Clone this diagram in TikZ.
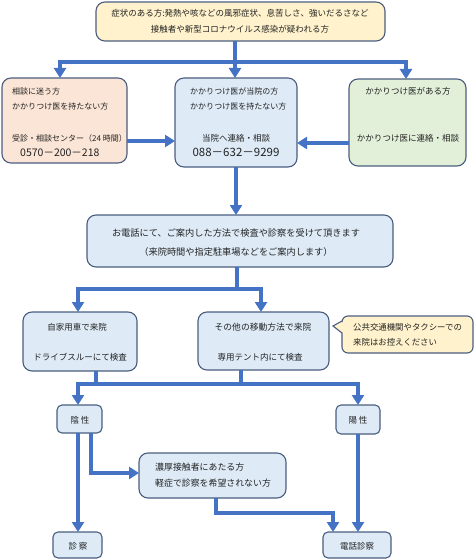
\documentclass[tikz,border=0pt]{standalone}
\usepackage{fontspec}
\setmainfont{Noto Sans CJK JP}
\usetikzlibrary{arrows.meta}
\definecolor{bd}{HTML}{4A5D80}
\definecolor{ac}{HTML}{4472C4}
\definecolor{yl}{HTML}{FFF2CC}
\definecolor{pk}{HTML}{FBE5D6}
\definecolor{bl}{HTML}{DEEBF7}
\definecolor{gr}{HTML}{E2F0D9}
\definecolor{tc}{HTML}{222222}
\begin{document}
\begin{tikzpicture}[x=1pt,y=-1pt,
  box/.style={draw=bd, line width=1.1pt, rounded corners=9pt, inner sep=0pt, outer sep=0pt},
  sbox/.style={box, rounded corners=5pt},
  arr/.style={draw=ac, line width=4pt, -{Triangle[width=12pt,length=10pt]}},
  ln/.style={draw=ac, line width=4pt},
  txt/.style={inner sep=0pt, text=tc, font=\fontsize{8.5}{10}\selectfont},
]
\useasboundingbox (0,0) rectangle (474,559);

% boxes
\node[box, fill=yl, minimum width=289pt, minimum height=39pt] (top) at (240.5,21.5) {};
\node[box, fill=pk, minimum width=125pt, minimum height=85pt] (L) at (64.5,120.5) {};
\node[box, fill=bl, minimum width=122pt, minimum height=89pt] (M) at (236,122.5) {};
\node[box, fill=gr, minimum width=117pt, minimum height=87pt] (R) at (407.5,122.5) {};
\node[box, fill=bl, minimum width=306pt, minimum height=52pt] (B2) at (240,241) {};
\node[box, fill=bl, minimum width=114pt, minimum height=59pt] (C1) at (80,341.5) {};
\node[box, fill=bl, minimum width=131pt, minimum height=58pt] (C2) at (263.5,341) {};
\draw[draw=bd, line width=1.1pt, fill=yl] (342,333) [rounded corners=6pt] -- (342,353) -- (473,353) -- (473,316) -- (342,316) [sharp corners] -- (342,321) -- (333,326) -- cycle;
\node[sbox, fill=bl, minimum width=45pt, minimum height=28pt] (neg) at (79.5,419) {};
\node[sbox, fill=bl, minimum width=44pt, minimum height=29pt] (pos) at (358,419.5) {};
\node[box, fill=bl, minimum width=147pt, minimum height=45pt] (mid) at (212.5,475.5) {};
\node[sbox, fill=bl, minimum width=49pt, minimum height=26pt] (exam) at (77.5,545) {};
\node[sbox, fill=bl, minimum width=68pt, minimum height=26pt] (tel) at (357,545) {};

% texts
\node[txt] (t1) at (240,13) {症状のある方:発熱や咳などの風邪症状、息苦しさ、強いだるさなど};
\node[txt] (t2) at (240,29) {接触者や新型コロナウイルス感染が疑われる方};

\node[txt, anchor=west, font=\fontsize{8}{10}\selectfont] (l1) at (12,91) {相談に迷う方};
\node[txt, anchor=west, font=\fontsize{8}{10}\selectfont] (l2) at (12,106) {かかりつけ医を持たない方};
\node[txt, anchor=west, font=\fontsize{8}{10}\selectfont] (l3) at (12,138) {受診・相談センター（24 時間）};
\node[txt, anchor=west, font=\fontsize{10.5}{12}\selectfont] (l4) at (20,153) {0570－200－218};

\node[txt, anchor=west, font=\fontsize{8}{10}\selectfont] (m1) at (190,91) {かかりつけ医が当院の方};
\node[txt, anchor=west, font=\fontsize{8}{10}\selectfont] (m2) at (190,106) {かかりつけ医を持たない方};
\node[txt, font=\fontsize{8.5}{10}\selectfont] (m3) at (236,138) {当院へ連絡・相談};
\node[txt, font=\fontsize{11.5}{13}\selectfont] (m4) at (236,152) {088－632－9299};

\node[txt, font=\fontsize{8.5}{10}\selectfont] (r1) at (408,91) {かかりつけ医がある方};
\node[txt, font=\fontsize{8.5}{10}\selectfont] (r2) at (408,138) {かかりつけ医に連絡・相談};

\node[txt, font=\fontsize{9.2}{11}\selectfont] (b1) at (236,233) {お電話にて、ご案内した方法で検査や診察を受けて頂きます};
\node[txt, font=\fontsize{9.2}{11}\selectfont] (b2) at (236,252) {（来院時間や指定駐車場などをご案内します）};

\node[txt, font=\fontsize{8.5}{10}\selectfont] (c1) at (77,327) {自家用車で来院};
\node[txt, font=\fontsize{8.5}{10}\selectfont] (c2) at (80,357) {ドライブスルーにて検査};
\node[txt, font=\fontsize{8.8}{10}\selectfont] (c3) at (263,327) {その他の移動方法で来院};
\node[txt, font=\fontsize{8.5}{10}\selectfont] (c4) at (260,357) {専用テント内にて検査};
\node[txt, anchor=west, font=\fontsize{8.4}{10}\selectfont] (d1) at (353,327) {公共交通機関やタクシーでの};
\node[txt, anchor=west, font=\fontsize{8.4}{10}\selectfont] (d2) at (353,342) {来院はお控えください};

\node[txt, font=\fontsize{8.5}{10}\selectfont] (n1) at (80,420) {陰 性};
\node[txt, font=\fontsize{8.5}{10}\selectfont] (p1) at (358,420) {陽 性};
\node[txt, anchor=west, font=\fontsize{8.9}{10}\selectfont] (e1) at (155,467) {濃厚接触者にあたる方};
\node[txt, anchor=west, font=\fontsize{8.9}{10}\selectfont] (e2) at (155,483) {軽症で診察を希望されない方};
\node[txt, font=\fontsize{8.5}{10}\selectfont] (x1) at (78,546) {診 察};
\node[txt, font=\fontsize{8.5}{10}\selectfont] (x2) at (357,546) {電話診察};

% connectors
\coordinate (j1) at (235,62);
\draw[ln] (top.south -| j1) -- (j1);
\draw[arr] (j1) -| ([xshift=-4.5pt]L.north);
\draw[arr] (j1) -| ([xshift=-1.5pt]R.north);
\draw[arr] (j1) -- (j1 |- M.north);

\coordinate (ya) at (0,141);
\coordinate (yb) at (0,143);
\draw[arr] (L.east |- ya) -- (M.west |- ya);
\draw[arr] (R.west |- yb) -- (M.east |- yb);

\draw[arr] (M.south) -- (M.south |- B2.north);

\coordinate (j2) at (237,289);
\draw[ln] (B2.south -| j2) -- (j2);
\draw[arr] (j2) -| ([xshift=-2pt]C1.north);
\draw[arr] (j2) -| ([xshift=-2.5pt]C2.north);

\coordinate (j3) at (96,384);
\coordinate (j4) at (241,384);
\draw[ln] (C1.south -| j3) -- (j3);
\draw[ln] (C2.south -| j4) -- (j4);
\draw[arr] (j3) -| ([xshift=-1.5pt]neg.north);
\draw[arr] (j3) -| (pos.north);

\draw[arr] ([xshift=-1.5pt]neg.south) -- ([xshift=-1.5pt]neg.south |- exam.north);
\coordinate (k1) at (91,473);
\draw[arr] (neg.south -| k1) |- ([yshift=2.5pt]mid.west);

\coordinate (k2) at (216,513);
\coordinate (k3) at (333,513);
\draw[arr] (mid.south -| k2) -- (k2) -- (k3) -- (k3 |- tel.north);
\draw[arr] (pos.south) -- (pos.south |- tel.north);
\end{tikzpicture}
\end{document}
